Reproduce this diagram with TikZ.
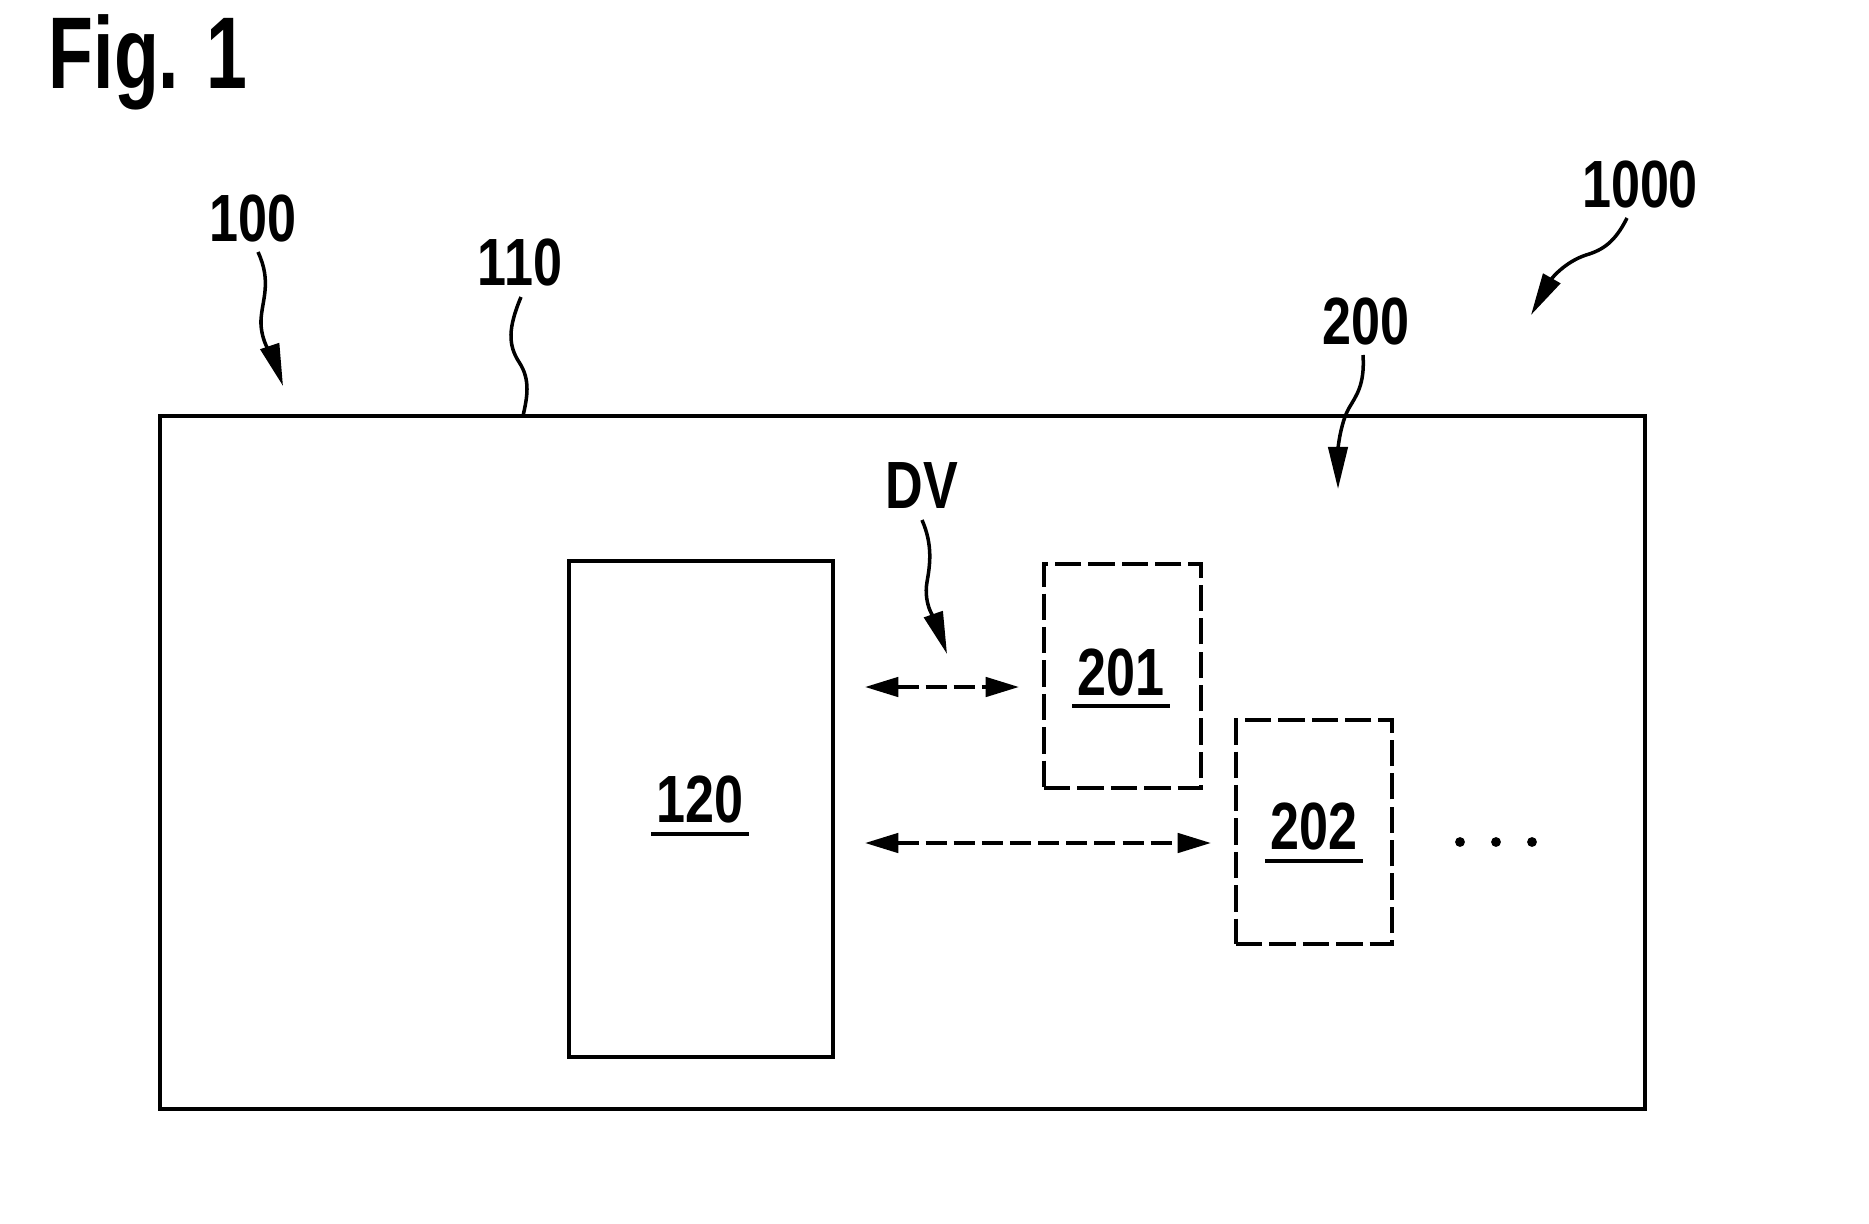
\documentclass[tikz,border=0pt]{standalone}
\usepackage{fontspec}
\newfontfamily\labfont{Liberation Sans}[FakeStretch=0.78]
\newfontfamily\figfont{Liberation Sans}[FakeStretch=0.72]
\usetikzlibrary{arrows.meta,calc}
\begin{document}
\begin{tikzpicture}[x=0.01cm,y=-0.01cm,
  lbl/.style={font={\labfont\bfseries\fontsize{19pt}{19pt}\selectfont}, inner sep=0pt, anchor=base},
  figlbl/.style={font={\figfont\bfseries\fontsize{29pt}{29pt}\selectfont}, inner sep=0pt, anchor=base},
  solidbox/.style={draw, line width=1.15pt, inner sep=0pt},
  dashbox/.style={draw, line width=1.1pt, inner sep=0pt, dash pattern=on 7.5pt off 2pt},
  ul/.style={line width=1.1pt},
  leader/.style={line width=1pt},
  leadarrow/.style={line width=1pt, -{Triangle[length=12pt,width=5.5pt]}},
  dv/.style={line width=1.1pt, dash pattern=on 6pt off 2pt,
    {Triangle[length=9.5pt,width=5.5pt]}-{Triangle[length=9.5pt,width=5.5pt]}}
]
\useasboundingbox (0,0) rectangle (1869,1224);

% title
\node[figlbl] (fig) at (148,88) {Fig. 1};

% boxes
\node[solidbox, minimum width=14.85cm, minimum height=6.93cm] (b110) at (902.5,762.5) {};
\node[solidbox, minimum width=2.64cm, minimum height=4.96cm] (b120) at (701,809) {};
\node[dashbox, minimum width=1.57cm, minimum height=2.24cm] (b201) at (1122.5,676) {};
\node[dashbox, minimum width=1.56cm, minimum height=2.24cm] (b202) at (1314,832) {};

% box texts with underline
\node[lbl] (t120) at (700,822) {120};
\draw[ul] ($(t120.base)+(-49,12)$) -- ($(t120.base)+(49,12)$);
\node[lbl] (t201) at (1121,695) {201};
\draw[ul] ($(t201.base)+(-49,11)$) -- ($(t201.base)+(49,11)$);
\node[lbl] (t202) at (1314,849) {202};
\draw[ul] ($(t202.base)+(-49,12)$) -- ($(t202.base)+(49,12)$);

% reference labels
\node[lbl] (l100) at (253,241) {100};
\node[lbl] (l110) at (520,285) {110};
\node[lbl] (l1000) at (1640,207) {1000};
\node[lbl] (l200) at (1366,344) {200};
\node[lbl] (ldv) at (922,508) {DV};

% leader coordinates
\coordinate (s100) at (258,252);
\coordinate (e100) at (283,386);
\coordinate (s110) at (521,297);
\coordinate (e110) at (523,416);
\coordinate (s1000) at (1627,218);
\coordinate (e1000) at (1531,315);
\coordinate (s200) at (1363,355);
\coordinate (e200) at (1338,489);
\coordinate (sdv) at (922,520);
\coordinate (edv) at (947,654);

\draw[leadarrow] (s100) .. controls (272,282) and (262,300) .. (261,320)
  .. controls (260,342) and (275,362) .. (e100);
\draw[leader] (s110) .. controls (508,328) and (508,345) .. (519,362)
  .. controls (531,380) and (527,398) .. (e110);
\draw[leadarrow] (s1000) .. controls (1615,242) and (1603,250) .. (1586,255)
  .. controls (1565,262) and (1552,278) .. (e1000);
\draw[leadarrow] (s200) .. controls (1365,385) and (1356,396) .. (1349,408)
  .. controls (1340,424) and (1338,450) .. (e200);
\draw[leadarrow] (sdv) .. controls (933,545) and (930,565) .. (927,582)
  .. controls (923,605) and (936,622) .. (edv);

% data connections
\coordinate (a1l) at (865,687);
\coordinate (a1r) at (1019,687);
\coordinate (a2l) at (865,843);
\coordinate (a2r) at (1211,843);
\draw[dv] (a1l) -- (a1r);
\draw[dv] (a2l) -- (a2r);

% continuation dots
\fill (1460,842) circle (1.4pt);
\fill (1496,842) circle (1.4pt);
\fill (1532,842) circle (1.4pt);
\end{tikzpicture}
\end{document}
